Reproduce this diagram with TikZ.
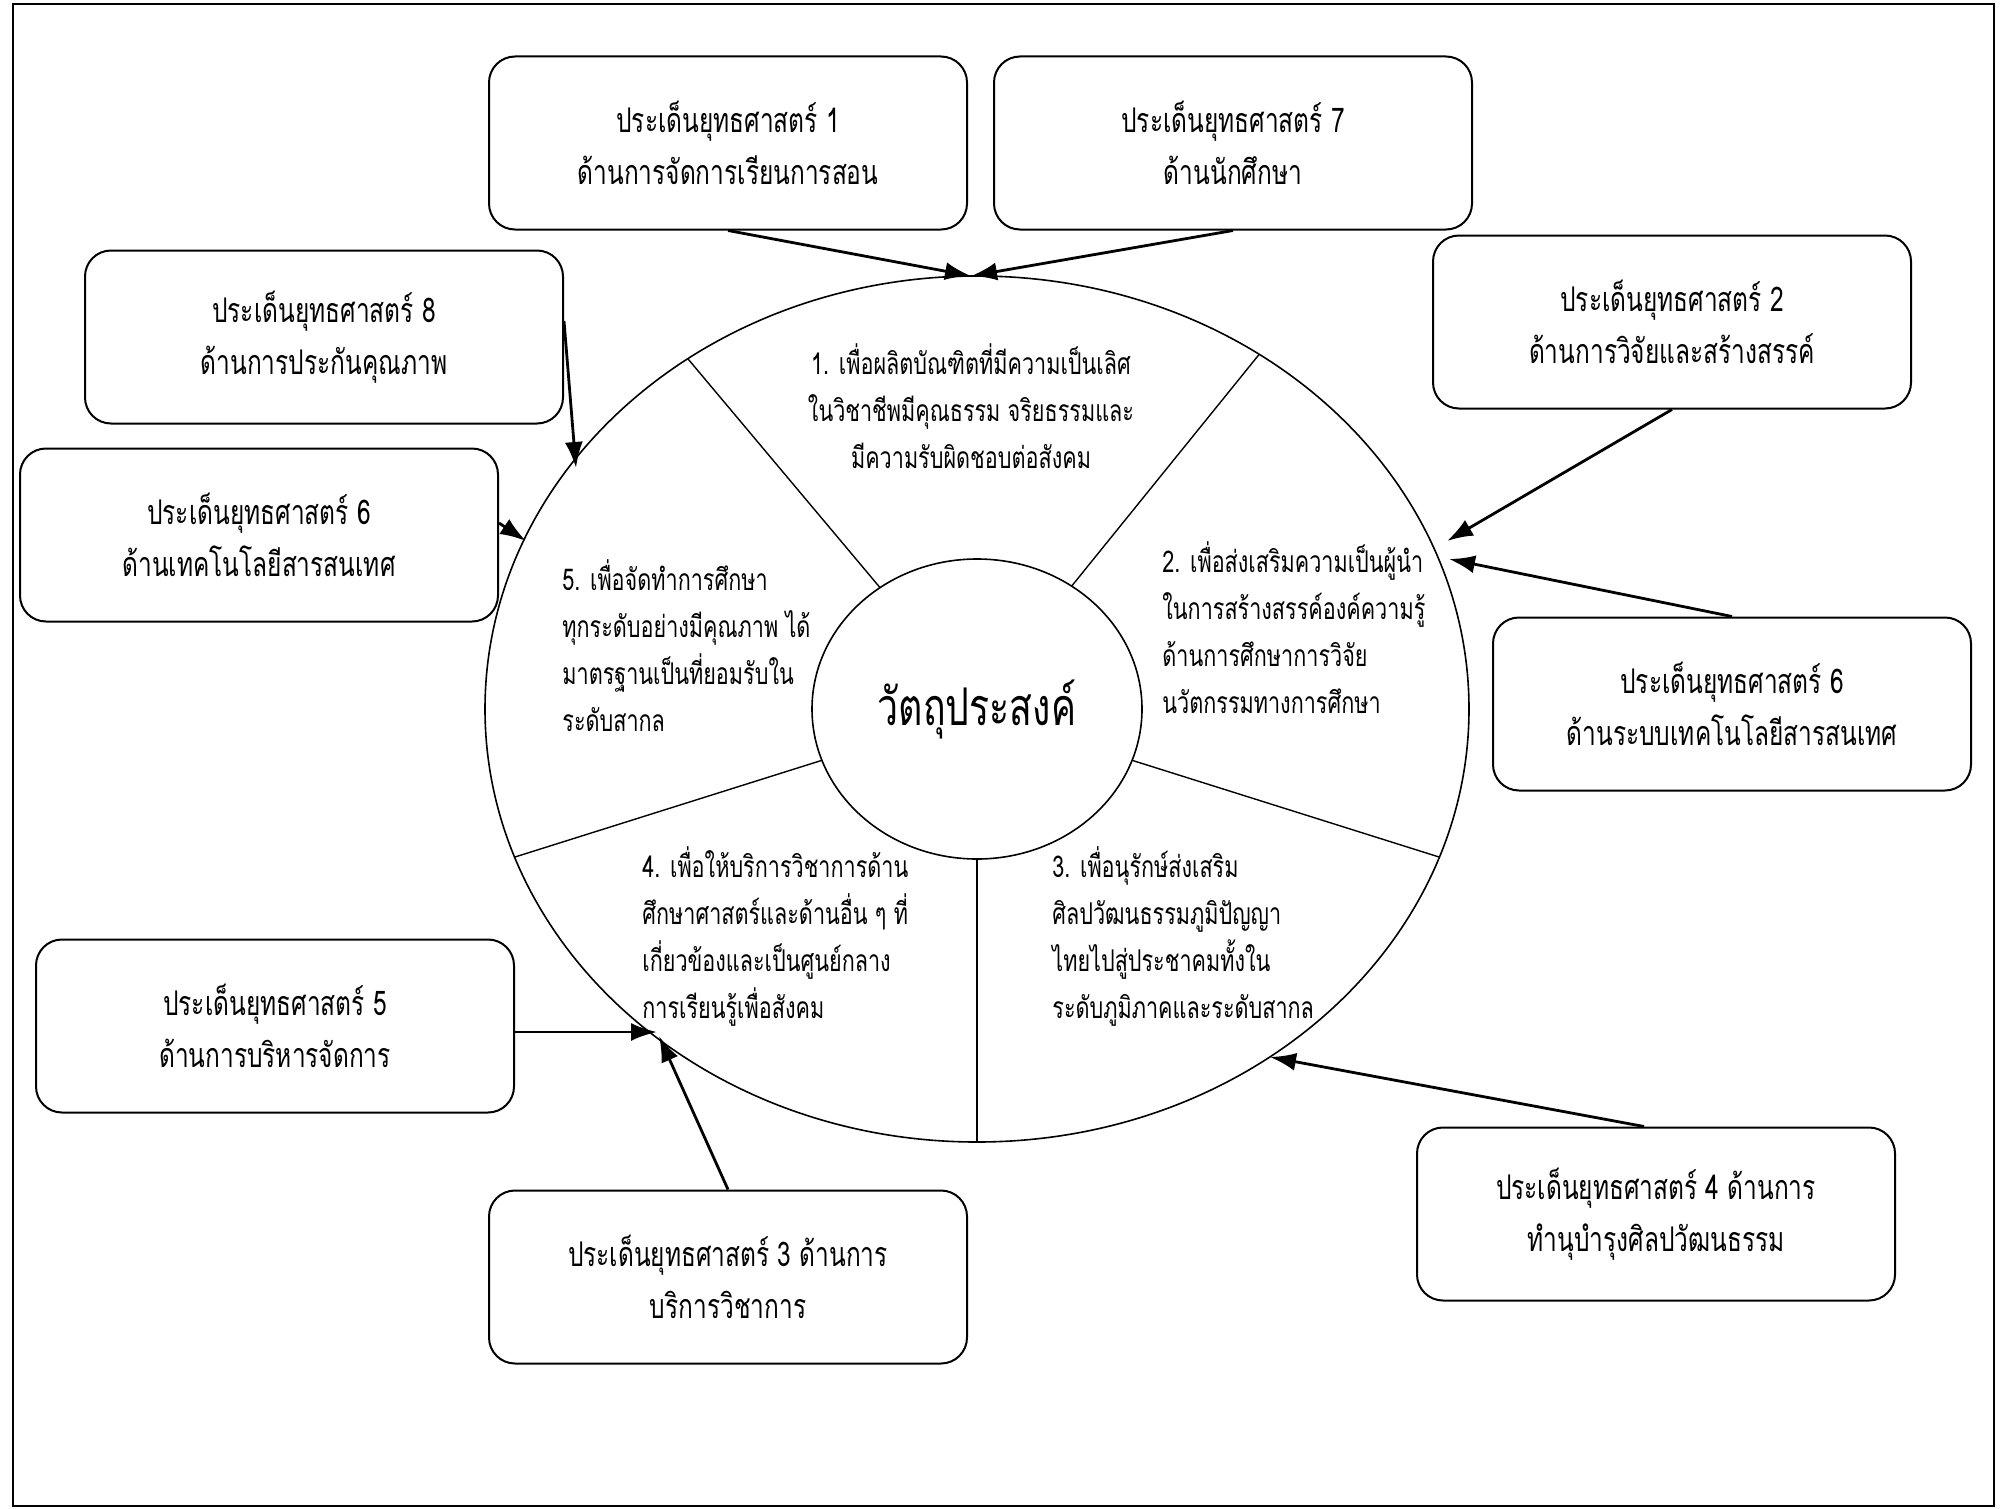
\documentclass[tikz,border=0pt]{standalone}
\usepackage{fontspec}
\setmainfont[Script=Thai,FakeStretch=0.72]{Loma}
\usetikzlibrary{shapes.geometric,arrows.meta,calc}
\begin{document}
\begin{tikzpicture}[x=0.5pt,y=-0.5pt,
  goal/.style={draw,line width=1pt,rounded corners=13pt,minimum width=239pt,minimum height=86.5pt,align=center,font=\fontsize{17}{26}\selectfont},
  aim/.style={align=left,inner sep=0pt,font=\fontsize{15}{23.5}\selectfont},
  feed/.style={line width=1.4pt,-{Latex[length=13pt,width=9pt]}}]
\useasboundingbox (0,0) rectangle (2007,1509);
\draw[line width=0.8pt] (13,4) rectangle (1994,1506);
%wheel
\node[draw,ellipse,line width=0.8pt,minimum width=492pt,minimum height=433pt] (ring) at (977,709) {};
\node[draw,ellipse,line width=0.8pt,minimum width=165pt,minimum height=150pt,inner sep=0pt,font=\fontsize{26}{30}\selectfont] (core) at (977,709) {วัตถุประสงค์};
\foreach \a in {126,55,-20,-90,200}
  \draw[line width=0.7pt] ($(core.center)+(\a:82.5pt and 75pt)$)--($(ring.center)+(\a:246pt and 216.5pt)$);
%objectives
\node[aim,align=center] (s1) at (971,406) {1. เพื่อผลิตบัณฑิตที่มีความเป็นเลิศ\\ในวิชาชีพมีคุณธรรม จริยธรรมและ\\มีความรับผิดชอบต่อสังคม};
\node[aim,anchor=west] (s2) at (1162,628) {2. เพื่อส่งเสริมความเป็นผู้นำ\\ในการสร้างสรรค์องค์ความรู้\\ด้านการศึกษาการวิจัย\\นวัตกรรมทางการศึกษา};
\node[aim,anchor=west] (s3) at (1052,936) {3. เพื่อนุรักษ์ส่งเสริม\\ศิลปวัฒนธรรมภูมิปัญญา\\ไทยไปสู่ประชาคมทั้งใน\\ระดับภูมิภาคและระดับสากล};
\node[aim,anchor=west] (s4) at (642,936) {4. เพื่อให้บริการวิชาการด้าน\\ศึกษาศาสตร์และด้านอื่น ๆ ที่\\เกี่ยวข้องและเป็นศูนย์กลาง\\การเรียนรู้เพื่อสังคม};
\node[aim,anchor=west] (s5) at (562,646) {5. เพื่อจัดทำการศึกษา\\ทุกระดับอย่างมีคุณภาพ ได้\\มาตรฐานเป็นที่ยอมรับใน\\ระดับสากล};
%strategies
\node[goal] (g1) at (728,143) {ประเด็นยุทธศาสตร์ 1\\ด้านการจัดการเรียนการสอน};
\node[goal] (g7) at (1233,143) {ประเด็นยุทธศาสตร์ 7\\ด้านนักศึกษา};
\node[goal] (g8) at (324,337) {ประเด็นยุทธศาสตร์ 8\\ด้านการประกันคุณภาพ};
\node[goal] (g2) at (1672,322) {ประเด็นยุทธศาสตร์ 2\\ด้านการวิจัยและสร้างสรรค์};
\node[goal] (g6l) at (259,535) {ประเด็นยุทธศาสตร์ 6\\ด้านเทคโนโลยีสารสนเทศ};
\node[goal] (g6r) at (1732,704) {ประเด็นยุทธศาสตร์ 6\\ด้านระบบเทคโนโลยีสารสนเทศ};
\node[goal] (g5) at (275,1026) {ประเด็นยุทธศาสตร์ 5\\ด้านการบริหารจัดการ};
\node[goal] (g3) at (728,1277) {ประเด็นยุทธศาสตร์ 3 ด้านการ\\บริการวิชาการ};
\node[goal] (g4) at (1656,1214) {ประเด็นยุทธศาสตร์ 4 ด้านการ\\ทำนุบำรุงศิลปวัฒนธรรม};
%arrows
\coordinate (top) at (971,276);
\coordinate (p8) at (576,468);
\coordinate (p6l) at (526,541);
\coordinate (p2) at (1447,541);
\coordinate (p6r) at (1449,559);
\coordinate (p4) at (1270,1057);
\coordinate (p5) at (657,1032);
\coordinate (p3) at (659,1036);
\draw[feed] (g1.south)--(top);
\draw[feed] (g7.south)--(top);
\draw[feed] ([yshift=8pt]g8.east)--(p8);
\draw[feed] ([yshift=6pt]g6l.east)--(p6l);
\draw[feed] (g2.south)--(p2);
\draw[feed] (g6r.north)--(p6r);
\draw[feed] ([xshift=-6pt]g4.north)--(p4);
\draw[feed] ([yshift=-3pt]g5.east)--(p5);
\draw[feed] (g3.north)--(p3);
\end{tikzpicture}
\end{document}
